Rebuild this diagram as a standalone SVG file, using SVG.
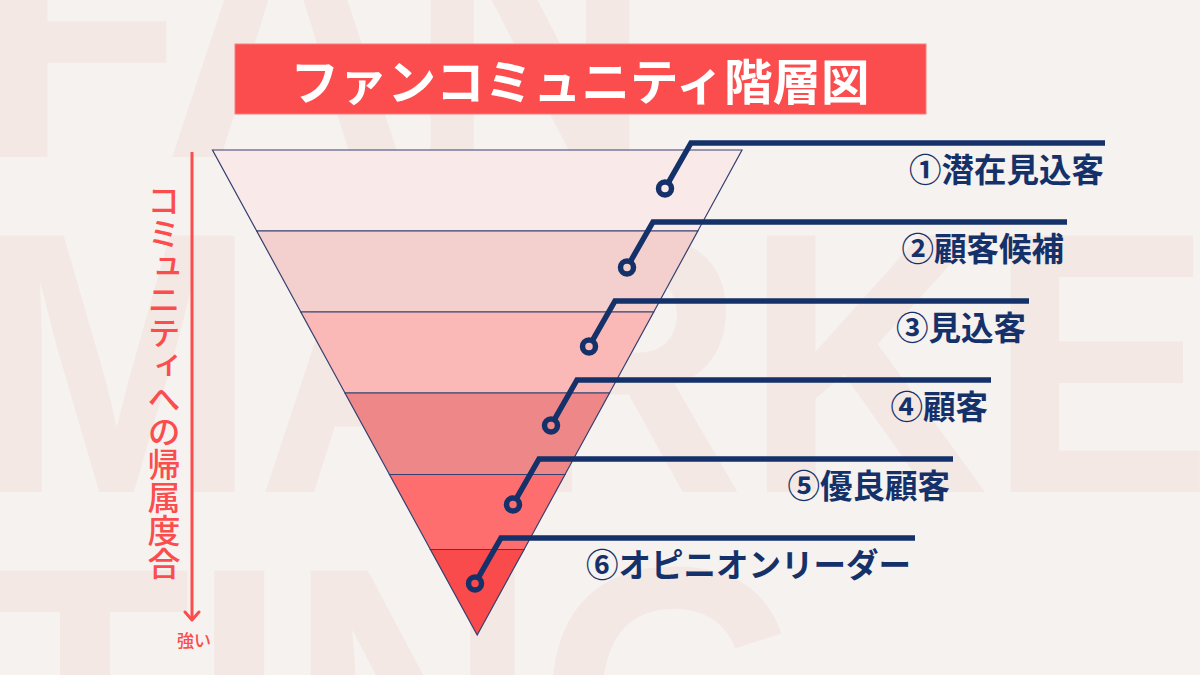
<svg xmlns="http://www.w3.org/2000/svg" width="1200" height="675" viewBox="0 0 1200 675">
  <defs>
    <style>
      .bgword { font-family: "Liberation Sans", Arial, sans-serif; font-weight: 700; font-size: 373px; fill: #f3e8e4; }
      .title { font-family: "Noto Sans CJK JP", "Noto Sans", sans-serif; font-weight: 700; font-size: 48.5px; fill: #ffffff; }
      .label { font-family: "Noto Sans CJK JP", "Noto Sans", sans-serif; font-weight: 700; font-size: 32.5px; fill: #15316a; text-anchor: end; }
      .axis { font-family: "Noto Sans CJK JP", "Noto Sans", sans-serif; font-weight: 500; fill: #fb4d4d; }
      .vert { writing-mode: vertical-rl; font-feature-settings: "vert" 1; }
      .band { stroke: #34406f; stroke-width: 1.2; }
      .conn { fill: none; stroke: #15316a; stroke-width: 5.5; stroke-linejoin: miter; stroke-linecap: butt; }
      .dot { fill: none; stroke: #15316a; stroke-width: 5.5; }
    </style>
  </defs>

  <rect x="0" y="0" width="1200" height="675" fill="#f6f2ef"/>

  <g id="background-words">
    <text class="bgword" x="-24" y="157" textLength="676" lengthAdjust="spacingAndGlyphs">FAN</text>
    <text class="bgword" x="-24" y="492" textLength="1237" lengthAdjust="spacingAndGlyphs">MARKE</text>
    <text class="bgword" x="-21" y="827" textLength="829" lengthAdjust="spacingAndGlyphs">TING</text>
  </g>

  <g id="title">
    <rect x="235" y="44" width="691" height="70" fill="#fb4d4d" stroke="#f77f7f" stroke-width="1"/>
    <text class="title" x="580" y="100" text-anchor="middle">ファンコミュニティ階層図</text>
  </g>

  <g id="axis">
    <line x1="192" y1="152" x2="192" y2="620" stroke="#fb4d4d" stroke-width="3"/>
    <polyline points="185,612 192,620 199,612" fill="none" stroke="#fb4d4d" stroke-width="3" stroke-linecap="round" stroke-linejoin="round"/>
    <text class="axis vert" x="164" y="184" font-size="33">コミュニティへの帰属度合</text>
    <text class="axis" x="194" y="647" font-size="17" text-anchor="middle">強い</text>
  </g>

  <g id="funnel">
    <g id="layer1"><polygon class="band" points="212.5,150 742,150 697.8,231 256.7,231" fill="#fae9e9"/></g>
    <g id="layer2"><polygon class="band" points="256.7,231 697.8,231 653.7,312 300.8,312" fill="#f3cfcd"/></g>
    <g id="layer3"><polygon class="band" points="300.8,312 653.7,312 609.5,393 345,393" fill="#fab8b7"/></g>
    <g id="layer4"><polygon class="band" points="345,393 609.5,393 565,474.5 389.5,474.5" fill="#ee8888"/></g>
    <g id="layer5"><polygon class="band" points="389.5,474.5 565,474.5 524.1,549.5 430.4,549.5" fill="#ff6e6e"/></g>
    <g id="layer6"><polygon class="band" points="430.4,549.5 524.1,549.5 477.2,635" fill="#f94b4b"/></g>
  </g>

  <g id="connectors">
    <path class="conn" d="M668.2,182.8 L691,143 H1105"/>
    <circle class="dot" cx="665" cy="188.5" r="6.5"/>
    <path class="conn" d="M630.2,261.8 L653,222 H1067"/>
    <circle class="dot" cx="627" cy="267.5" r="6.5"/>
    <path class="conn" d="M592.2,340.8 L615,301 H1029"/>
    <circle class="dot" cx="589" cy="346.5" r="6.5"/>
    <path class="conn" d="M554.2,419.8 L577,380 H991"/>
    <circle class="dot" cx="551" cy="425.5" r="6.5"/>
    <path class="conn" d="M516.2,498.8 L539,459 H953"/>
    <circle class="dot" cx="513" cy="504.5" r="6.5"/>
    <path class="conn" d="M478.2,577.8 L501,538 H915"/>
    <circle class="dot" cx="475" cy="583.5" r="6.5"/>
  </g>

  <g id="labels">
    <g id="label1"><text class="label" x="1104" y="182">①潜在見込客</text></g>
    <g id="label2"><text class="label" x="1064" y="261">②顧客候補</text></g>
    <g id="label3"><text class="label" x="1026" y="340">③見込客</text></g>
    <g id="label4"><text class="label" x="988" y="419">④顧客</text></g>
    <g id="label5"><text class="label" x="950" y="498">⑤優良顧客</text></g>
    <g id="label6"><text class="label" x="911" y="577">⑥オピニオンリーダー</text></g>
  </g>
</svg>
